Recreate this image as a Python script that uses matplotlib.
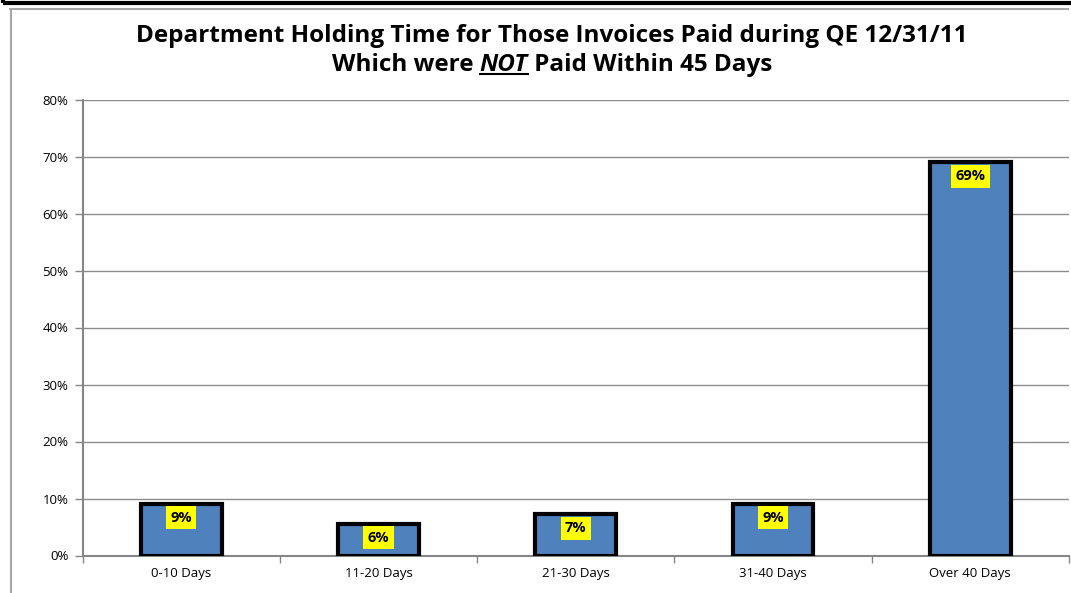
import matplotlib.pyplot as plt
from matplotlib.lines import Line2D
from matplotlib.patches import Rectangle
from matplotlib.ticker import FuncFormatter, FixedLocator

# holding time buckets and share of invoices
categories = ['0-10 Days', '11-20 Days', '21-30 Days', '31-40 Days', 'Over 40 Days']
shares = [0.091, 0.056, 0.072, 0.091, 0.690]

plt.rcParams['font.family'] = ['Open Sans', 'DejaVu Sans']

W, H = 1071, 593
fig = plt.figure(figsize=(W / 100, H / 100), dpi=100)

# plot area in pixel terms
left, right, top, bottom = 82.5, 1069, 99.5, 555.5
ax = fig.add_axes([left / W, 1 - bottom / H, (right - left) / W, (bottom - top) / H])

x = range(len(categories))
bars = ax.bar(x, shares, width=0.41, color='#4F81BD', edgecolor='black', linewidth=3, zorder=3)

for b, v in zip(bars, shares):
    ax.annotate(f'{v * 100:.0f}%', (b.get_x() + b.get_width() / 2, b.get_height()),
                xytext=(0, -5), textcoords='offset points', ha='center', va='top',
                fontsize=10.5, fontweight='bold', zorder=4,
                bbox=dict(boxstyle='square,pad=0.3', fc='#FFFF00', ec='none'))

ax.set_xlim(-0.5, len(categories) - 0.5)
ax.set_ylim(0, 0.8)
ax.set_yticks([i / 10 for i in range(9)])
ax.yaxis.set_major_formatter(FuncFormatter(lambda v, p: f'{v * 100:.0f}%'))
ax.set_xticks(list(x))
ax.set_xticklabels(categories, fontsize=9.5)
ax.xaxis.set_minor_locator(FixedLocator([i - 0.5 for i in range(len(categories) + 1)]))
ax.tick_params(axis='x', which='major', length=0, pad=8)
ax.tick_params(axis='x', which='minor', length=5, color='#868686', width=1)
ax.tick_params(axis='y', length=6, color='#868686', width=1, labelsize=9.5, pad=4)
ax.grid(axis='y', color='#8C8C8C', linewidth=1, zorder=0)

for s in ['top', 'right']:
    ax.spines[s].set_visible(False)
for s in ['left', 'bottom']:
    ax.spines[s].set_color('#868686')
    ax.spines[s].set_linewidth(1.5)

# frame lines
fig.add_artist(Rectangle((3 / W, 1 - 3 / H), 1.0, 0.1, transform=fig.transFigure,
                         fc='none', ec='black', lw=3, clip_on=False))
fig.add_artist(Line2D([10 / W, 1068 / W], [1 - 9 / H, 1 - 9 / H], color='#A6A6A6', lw=1.5))
fig.add_artist(Line2D([11 / W, 11 / W], [1 - 9 / H, 0], color='#A6A6A6', lw=1.5))

# title, second line built from pieces so NOT can be italic and underlined
cx = 552 / W
fs = 17.5
fig.text(cx, 1 - 36 / H, 'Department Holding Time for Those Invoices Paid during QE 12/31/11',
         ha='center', va='center', fontsize=fs, fontweight='bold')

y2 = 1 - 65 / H
parts = [('Which were ', 'normal'), ('NOT', 'italic'), (' Paid Within 45 Days', 'normal')]
texts = [fig.text(0, y2, s, ha='left', va='center', fontsize=fs, fontweight='bold', style=st)
         for s, st in parts]
fig.canvas.draw()
r = fig.canvas.get_renderer()
widths = [t.get_window_extent(r).width / W for t in texts]
xpos = cx - sum(widths) / 2
for t, w in zip(texts, widths):
    t.set_x(xpos)
    xpos += w
nb = texts[1].get_window_extent(r)
uy = (nb.y0 + 3) / H
fig.add_artist(Line2D([nb.x0 / W, nb.x1 / W], [uy, uy], color='black', lw=1.5))

fig.savefig('out.png', dpi=100)
